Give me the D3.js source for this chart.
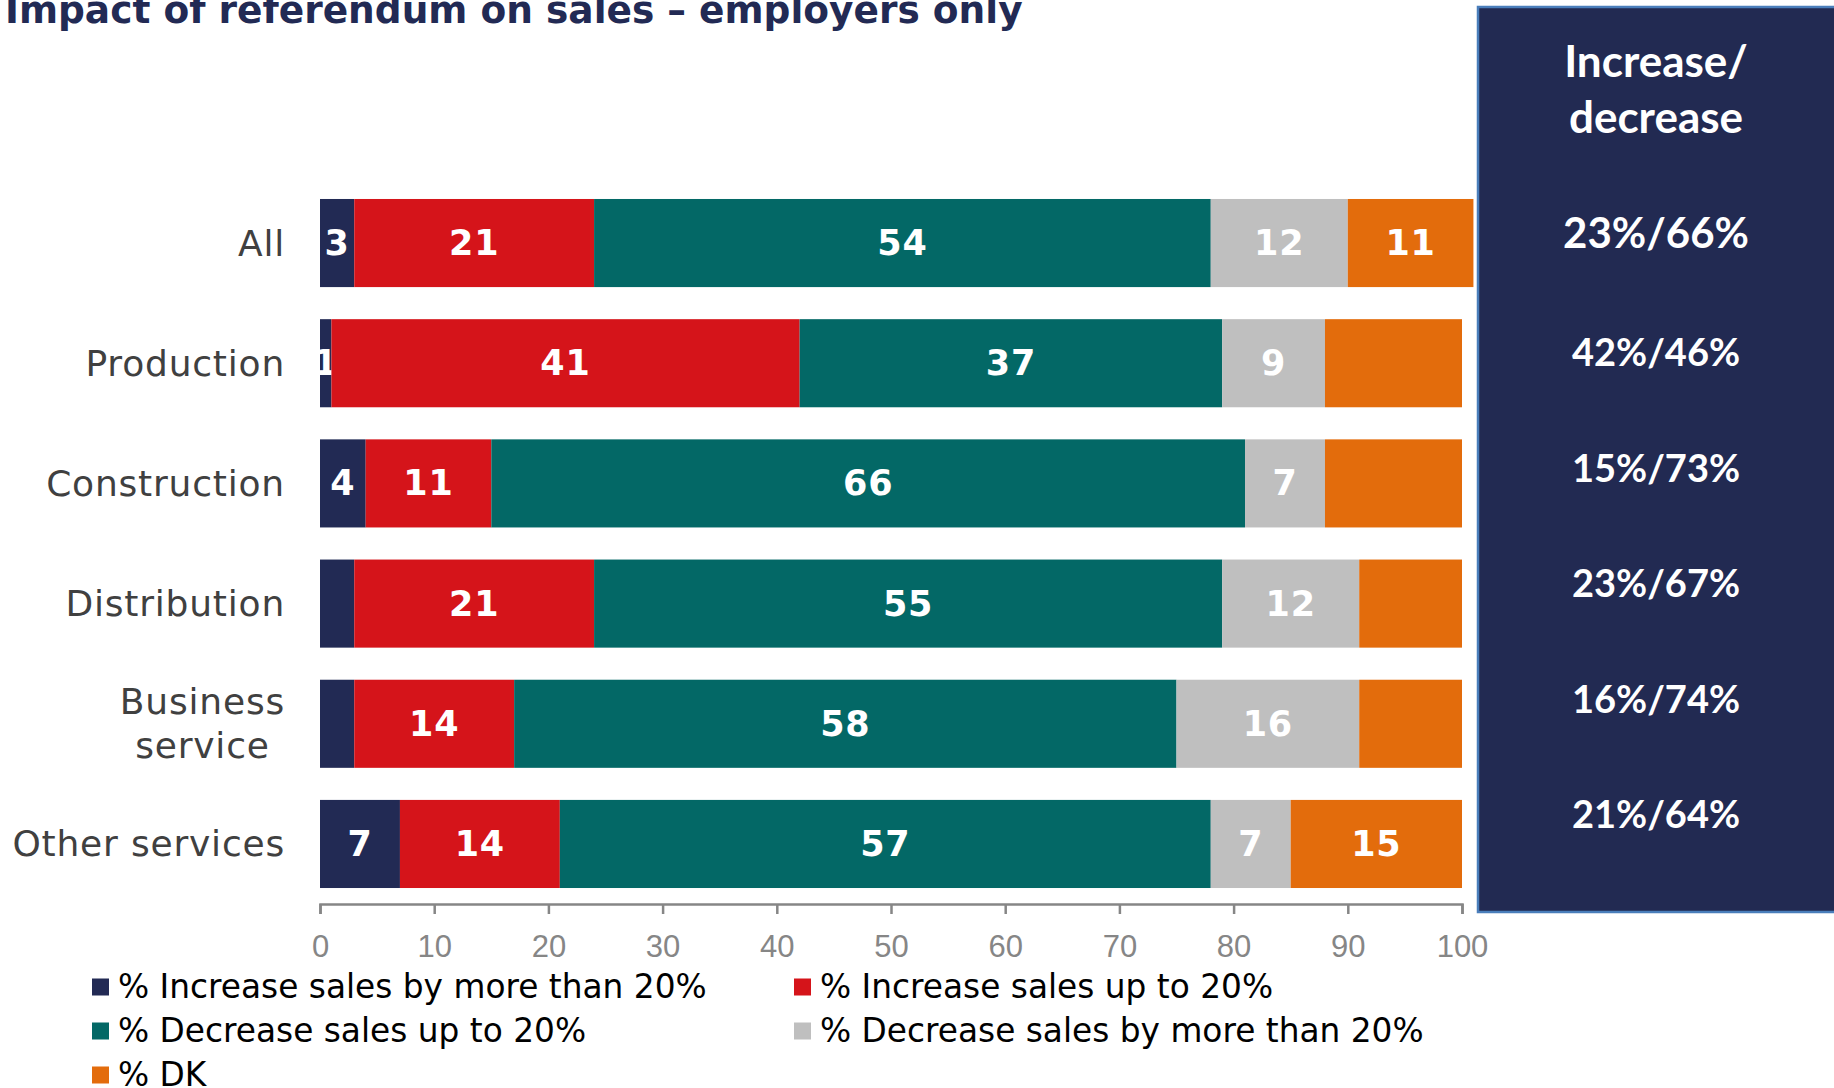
<!DOCTYPE html>
<html>
<head>
<meta charset="utf-8">
<script src="https://cdn.jsdelivr.net/npm/d3@7"></script>
<style>
  html, body { margin: 0; padding: 0; background: #ffffff; }
  svg { display: block; }
</style>
</head>
<body>
<svg id="chart" width="1834" height="1088"></svg>
<script>
// Sectors, top to bottom
const categories = ["All", "Production", "Construction", "Distribution", "Business\nservice", "Other services"];

// Share of employers (%) per answer, one array per answer
const increaseOver20 = [3, 1, 4, 3, 3, 7];
const increaseUpTo20 = [21, 41, 11, 21, 14, 14];
const decreaseUpTo20 = [54, 37, 66, 55, 58, 57];
const decreaseOver20 = [12, 9, 7, 12, 16, 7];
const dontKnow       = [11, 12, 12, 9, 9, 15];

// Segments whose value is not printed: [category index, series index]
const unlabelled = [[1, 4], [2, 4], [3, 0], [3, 4], [4, 0], [4, 4]];

const seriesNames = [
  "% Increase sales by more than 20%",
  "% Increase sales up to 20%",
  "% Decrease sales up to 20%",
  "% Decrease sales by more than 20%",
  "% DK"
];
const seriesColors = ["#222a54", "#d5141a", "#036866", "#bfbfbf", "#e36c0c"];

// Net increase / decrease per sector
const panelTitle = ["Increase/", "decrease"];
const netLabels = ["23%/66%", "42%/46%", "15%/73%", "23%/67%", "16%/74%", "21%/64%"];

const xTicks = [0, 10, 20, 30, 40, 50, 60, 70, 80, 90, 100];

const seriesValues = [increaseOver20, increaseUpTo20, decreaseUpTo20, decreaseOver20, dontKnow];

const svg = d3.select("#chart");
const sans = "'DejaVu Sans', Verdana, sans-serif";

// Title
svg.append("text")
  .attr("x", 5).attr("y", 23)
  .attr("font-family", sans).attr("font-weight", "bold")
  .attr("font-size", 37.5).attr("fill", "#222a54")
  .text("Impact of referendum on sales \u2013 employers only");

// Scales
const x = d3.scaleLinear().domain([0, 100]).range([320, 1462]);
const y = d3.scaleBand().domain(d3.range(categories.length))
  .range([183, 904]).paddingInner(0.267).paddingOuter(0.133);

// Stacked segments
const rows = categories.map((c, i) => {
  let acc = 0;
  return seriesValues.map((vals, s) => {
    const seg = { row: i, s, v: vals[i], x0: acc, x1: acc + vals[i] };
    acc += vals[i];
    return seg;
  });
});

const hidden = new Set(unlabelled.map(d => d[0] + "-" + d[1]));

// Draw each series in order so later segments sit over earlier labels
seriesValues.forEach((vals, s) => {
  const g = svg.append("g");
  const segs = rows.map(r => r[s]);
  g.selectAll("rect").data(segs).join("rect")
    .attr("x", d => x(d.x0))
    .attr("y", d => y(d.row))
    .attr("width", d => x(d.x1) - x(d.x0))
    .attr("height", y.bandwidth())
    .attr("fill", seriesColors[s]);
  g.selectAll("text").data(segs.filter(d => !hidden.has(d.row + "-" + d.s))).join("text")
    .attr("x", d => (x(d.x0) + x(d.x1)) / 2)
    .attr("y", d => y(d.row) + y.bandwidth() / 2)
    .attr("text-anchor", "middle")
    .attr("dominant-baseline", "central")
    .attr("font-family", sans).attr("font-weight", "bold")
    .attr("font-size", 35).attr("letter-spacing", 0.8).attr("fill", "#ffffff")
    .text(d => d.v);
});

// Category labels (wrapped labels are centred within their block)
const catG = svg.append("g");
categories.forEach((c, i) => {
  const lines = c.split("\n");
  const cy = y(i) + y.bandwidth() / 2;
  const lh = 44;
  const texts = lines.map((ln, k) => catG.append("text")
    .attr("y", cy + (k - (lines.length - 1) / 2) * lh)
    .attr("dominant-baseline", "central")
    .attr("font-family", sans).attr("font-size", 36)
    .attr("letter-spacing", 0.8)
    .attr("fill", "#404040")
    .text(ln));
  if (lines.length === 1) {
    texts[0].attr("x", 285).attr("text-anchor", "end");
  } else {
    const w = d3.max(texts, t => t.node().getComputedTextLength());
    texts.forEach(t => t.attr("x", 285 - w / 2).attr("text-anchor", "middle"));
  }
});

// X axis
const axis = d3.axisBottom(x).tickValues(xTicks).tickSize(10).tickSizeOuter(10);
const axG = svg.append("g").attr("transform", "translate(0,904)").call(axis);
axG.select(".domain").attr("stroke", "#868686").attr("stroke-width", 2.5);
axG.selectAll(".tick line").attr("stroke", "#868686").attr("stroke-width", 2.5);
axG.selectAll(".tick text")
  .attr("y", 53).attr("dy", null)
  .attr("font-family", "'Liberation Sans', Arial, sans-serif")
  .attr("font-size", 31).attr("fill", "#868686");

// Legend
const legendPos = [[92, 987], [794, 987], [92, 1031], [794, 1031], [92, 1075]];
const lg = svg.append("g");
seriesNames.forEach((name, s) => {
  const [lx, ly] = legendPos[s];
  lg.append("rect").attr("x", lx).attr("y", ly - 8.5)
    .attr("width", 17).attr("height", 17).attr("fill", seriesColors[s]);
  lg.append("text").attr("x", lx + 26).attr("y", ly)
    .attr("dominant-baseline", "central")
    .attr("font-family", sans).attr("font-size", 32.8).attr("fill", "#000000")
    .text(name);
});

// Increase / decrease panel
const panel = svg.append("g");
panel.append("rect")
  .attr("x", 1478).attr("y", 7).attr("width", 420).attr("height", 905)
  .attr("fill", "#222a52").attr("stroke", "#4a7ebb").attr("stroke-width", 2.5);
const panelFont = "Lato, 'Open Sans', sans-serif";
const pcx = 1656;
panelTitle.forEach((t, k) => {
  panel.append("text").attr("x", pcx).attr("y", 77 + k * 56)
    .attr("text-anchor", "middle")
    .attr("font-family", panelFont).attr("font-weight", "bold")
    .attr("font-size", 44).attr("fill", "#ffffff").text(t);
});
netLabels.forEach((t, i) => {
  panel.append("text").attr("x", pcx)
    .attr("y", i === 0 ? 248 : 366 + (i - 1) * 115.5)
    .attr("text-anchor", "middle")
    .attr("font-family", panelFont).attr("font-weight", "bold")
    .attr("font-size", i === 0 ? 42 : 38).attr("fill", "#ffffff").text(t);
});
</script>
</body>
</html>
